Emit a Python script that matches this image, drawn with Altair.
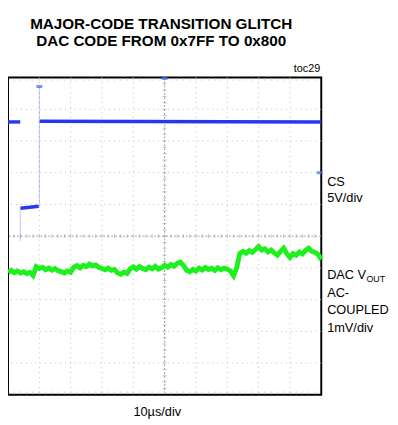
import altair as alt
import pandas as pd

# ---- data (in oscilloscope divisions: x 0..10, y 0..10) ----
grid_pos = [1, 2, 3, 4, 6, 7, 8, 9]
center_pos = [5]
minor_ticks = [i / 5 for i in range(1, 50)]

cs_level_seg = [0, 0, 1, 1, 2, 2]
cs_level_x = [0.0, 0.39, 0.40, 0.98, 1.01, 10.0]
cs_level_y = [8.6, 8.6, 5.88, 5.94, 8.62, 8.6]

cs_edge_seg = [0, 0, 1, 1]
cs_edge_x = [0.39, 0.39, 1.0, 1.0]
cs_edge_y = [5.9, 4.85, 5.9, 9.72]

cs_marker_x = [1.0, 5.0, 9.95]
cs_marker_y = [9.72, 9.97, 7.0]

vout_x = [i / 10 for i in range(101)]
vout_y = [3.86, 3.92, 3.85, 3.90, 3.84, 3.88, 3.82, 3.86, 3.76, 4.04,
          3.98, 4.02, 3.94, 3.99, 3.93, 3.98, 3.91, 3.88, 3.84, 3.90,
          3.86, 4.02, 4.07, 4.00, 4.08, 4.04, 4.12, 4.06, 4.09, 4.02,
          3.98, 3.94, 3.99, 3.92, 3.95, 3.84, 3.80, 3.86, 3.82, 3.97,
          4.03, 3.96, 4.04, 3.98, 3.94, 4.02, 3.97, 4.05, 3.96, 4.00,
          4.08, 4.02, 4.10, 4.05, 4.14, 4.18, 4.08, 3.92, 3.88, 3.95,
          3.90, 3.99, 3.93, 4.01, 3.95, 3.99, 3.92, 4.00, 3.94, 3.99,
          3.96, 3.90, 3.75, 4.00, 4.45, 4.52, 4.46, 4.54, 4.49, 4.58,
          4.67, 4.56, 4.60, 4.50, 4.56, 4.47, 4.40, 4.52, 4.62, 4.45,
          4.33, 4.45, 4.40, 4.50, 4.44, 4.55, 4.62, 4.52, 4.49, 4.42,
          4.27]

W, H = 319, 323
FONT = "Liberation Sans, Arial, sans-serif"

xs = alt.Scale(domain=[0, 10], nice=False, zero=False)
ys = alt.Scale(domain=[0, 10], nice=False, zero=False)

grid_df = pd.DataFrame({"p": grid_pos})
center_df = pd.DataFrame({"p": center_pos})
tick_df = pd.DataFrame({"p": minor_ticks})

vgrid = alt.Chart(grid_df).mark_rule(color="#bdbdbd", strokeDash=[1, 4], strokeWidth=1).encode(
    x=alt.X("p:Q", scale=xs, axis=None))
hgrid = alt.Chart(grid_df).mark_rule(color="#bdbdbd", strokeDash=[1, 4], strokeWidth=1).encode(
    y=alt.Y("p:Q", scale=ys, axis=None))
vcenter = alt.Chart(center_df).mark_rule(color="#9a9aa6", strokeDash=[2, 2], strokeWidth=1).encode(
    x=alt.X("p:Q", scale=xs, axis=None))
hcenter = alt.Chart(center_df).mark_rule(color="#9a9aa6", strokeDash=[2, 2], strokeWidth=1).encode(
    y=alt.Y("p:Q", scale=ys, axis=None))
hticks = alt.Chart(tick_df).mark_tick(color="#a8a8b4", size=4, thickness=1, orient="vertical").encode(
    x=alt.X("p:Q", scale=xs, axis=None), y=alt.value(H / 2))
vticks = alt.Chart(tick_df).mark_tick(color="#a8a8b4", size=4, thickness=1, orient="horizontal").encode(
    y=alt.Y("p:Q", scale=ys, axis=None), x=alt.value(W / 2))
topticks = alt.Chart(tick_df).mark_tick(color="#c4c4c4", size=3, thickness=1, orient="vertical").encode(
    x=alt.X("p:Q", scale=xs, axis=None), y=alt.value(2))
botticks = alt.Chart(tick_df).mark_tick(color="#c4c4c4", size=3, thickness=1, orient="vertical").encode(
    x=alt.X("p:Q", scale=xs, axis=None), y=alt.value(H - 2))

cs_level_df = pd.DataFrame({"seg": cs_level_seg, "x": cs_level_x, "y": cs_level_y})
cs_edge_df = pd.DataFrame({"seg": cs_edge_seg, "x": cs_edge_x, "y": cs_edge_y})
cs_marker_df = pd.DataFrame({"x": cs_marker_x, "y": cs_marker_y})
vout_df = pd.DataFrame({"x": vout_x, "y": vout_y})

BLUE = "#2638ee"
GREEN = "#1ef01e"

cs_edges = alt.Chart(cs_edge_df).mark_line(color=BLUE, strokeWidth=1, opacity=0.3).encode(
    x=alt.X("x:Q", scale=xs, axis=None), y=alt.Y("y:Q", scale=ys, axis=None), detail="seg:N")
cs_levels = alt.Chart(cs_level_df).mark_line(color=BLUE, strokeWidth=3.5).encode(
    x=alt.X("x:Q", scale=xs, axis=None), y=alt.Y("y:Q", scale=ys, axis=None), detail="seg:N")
cs_markers = alt.Chart(cs_marker_df).mark_tick(color="#3a6af0", size=6, thickness=3, orient="horizontal").encode(
    x=alt.X("x:Q", scale=xs, axis=None), y=alt.Y("y:Q", scale=ys, axis=None))
vout = alt.Chart(vout_df).mark_line(color=GREEN, strokeWidth=5, strokeJoin="miter").encode(
    x=alt.X("x:Q", scale=xs, axis=None), y=alt.Y("y:Q", scale=ys, axis=None))


def label(text, x, y, size=13, weight="normal", align="left", font=FONT):
    return alt.Chart(pd.DataFrame({"t": [text]})).mark_text(
        align=align, baseline="alphabetic", fontSize=size, fontWeight=weight,
        font=font, color="black").encode(text="t:N", x=alt.value(x), y=alt.value(y))


texts = [
    label("MAJOR-CODE TRANSITION GLITCH", 156, -49, size=15.5, weight="bold", align="center"),
    label("DAC CODE FROM 0x7FF TO 0x800", 156, -32, size=15.5, weight="bold", align="center"),
    label("toc29", 318, -6, size=11, align="right"),
    label("CS", 325, 110),
    label("5V/div", 325, 127),
    label("DAC V", 325, 205),
    label("OUT", 365, 208, size=9),
    label("AC-", 325, 223),
    label("COUPLED", 325, 241),
    label("1mV/div", 325, 259),
    label("10\u00b5s/div", 152, 345, align="center"),
]

chart = alt.layer(
    vgrid, hgrid, vcenter, hcenter, hticks, vticks, topticks, botticks,
    vout, cs_edges, cs_levels, cs_markers, *texts
).properties(
    width=W, height=H,
    autosize=alt.AutoSizeParams(type="none"),
    padding={"left": 0, "top": 67, "right": 70, "bottom": 26},
).configure_view(stroke="black", strokeWidth=2)

chart.save("out.html", embed_options={"renderer": "svg", "actions": False})
